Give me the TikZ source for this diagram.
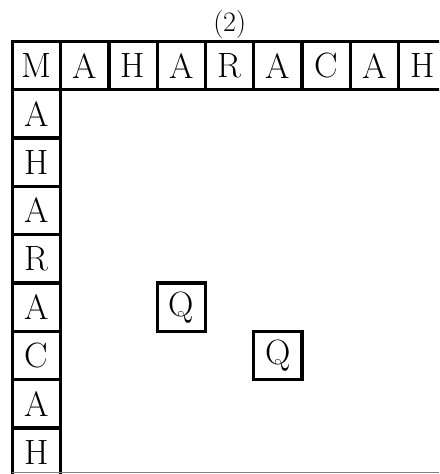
\documentclass[tikz,border=0pt]{standalone}
\usepackage{fontspec}
\usepackage{tikz}
\usetikzlibrary{positioning}
\newcommand\cellfont{\fontsize{30}{34}\selectfont}
\newcommand\tagfont{\fontsize{24}{28}\selectfont}

\begin{document}
\begin{tikzpicture}[x=0.03cm,y=-0.03cm,node distance=0pt,
  cell/.style={draw,line width=2.8pt,minimum size=1.449cm,inner sep=0pt,outer sep=0pt,font=\cellfont},
  edge/.style={draw=gray,line width=0.6pt}]
\useasboundingbox (0,0) rectangle (439,474);
\clip (0,0) rectangle (439,474);
% top row
\node[cell] (t1) at (36.45,65.65) {M};
\node[cell,right=of t1] (t2) {A};
\node[cell,right=of t2] (t3) {H};
\node[cell,right=of t3] (t4) {A};
\node[cell,right=of t4] (t5) {R};
\node[cell,right=of t5] (t6) {A};
\node[cell,right=of t6] (t7) {C};
\node[cell,right=of t7] (t8) {A};
\node[cell,right=of t8] (t9) {H};
% left column
\node[cell,below=of t1] (l1) {A};
\node[cell,below=of l1] (l2) {H};
\node[cell,below=of l2] (l3) {A};
\node[cell,below=of l3] (l4) {R};
\node[cell,below=of l4] (l5) {A};
\node[cell,below=of l5] (l6) {C};
\node[cell,below=of l6] (l7) {A};
\node[cell,below=of l7] (l8) {H};
\node[above=2pt of t5,inner sep=0pt,font=\tagfont] (lbl) {(2)};
% queens
\node[cell] (q1) at (t4 |- l5) {Q};
\node[cell] (q2) at (t6 |- l6) {Q};
\coordinate (rim) at (439,472);
\draw[edge] (l8.west |- rim) -- (rim);
\end{tikzpicture}
\end{document}
